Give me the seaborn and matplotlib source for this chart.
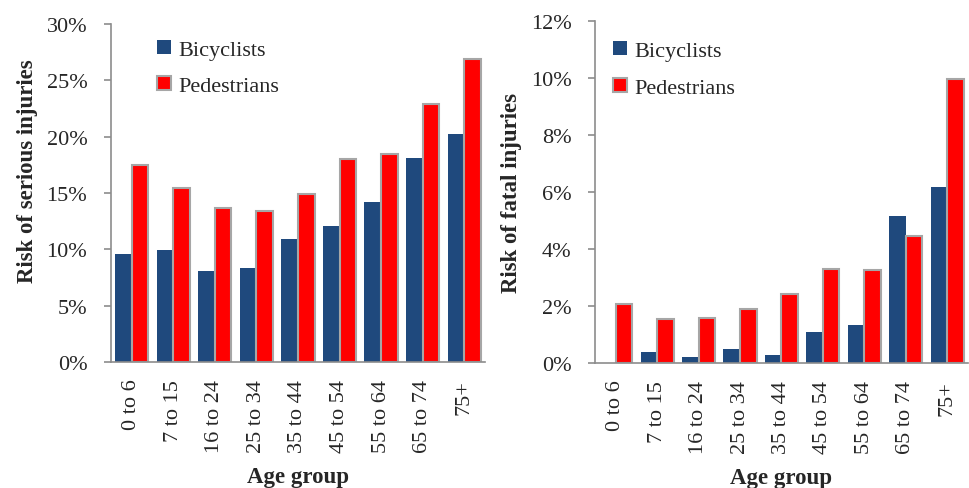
import pandas as pd
import matplotlib
matplotlib.use("Agg")
import matplotlib.pyplot as plt
import seaborn as sns
from matplotlib.ticker import PercentFormatter, FixedLocator

age_groups = ["0 to 6", "7 to 15", "16 to 24", "25 to 34", "35 to 44",
              "45 to 54", "55 to 64", "65 to 74", "75+"]

serious_bicyclists = [9.6, 9.9, 8.1, 8.3, 10.9, 12.1, 14.2, 18.1, 20.2]
serious_pedestrians = [17.5, 15.4, 13.7, 13.4, 14.9, 18.0, 18.5, 22.9, 26.9]

fatal_bicyclists = [0.0, 0.39, 0.2, 0.5, 0.29, 1.09, 1.34, 5.16, 6.18]
fatal_pedestrians = [2.06, 1.53, 1.59, 1.9, 2.43, 3.31, 3.25, 4.44, 9.98]

BLUE = "#1F497D"
RED = "#FF0000"
GRAY = "#8C8C8C"

sns.set_style("white")
plt.rcParams["font.family"] = ["Liberation Serif", "DejaVu Serif"]


def to_long(bike, ped):
    df = pd.DataFrame({"Age group": age_groups, "Bicyclists": bike, "Pedestrians": ped})
    return df.melt(id_vars="Age group", var_name="Mode", value_name="Risk")


def draw_panel(ax, df, ymax, ystep, ylabel, legend_xy, ylabel_y):
    sns.barplot(data=df, x="Age group", y="Risk", hue="Mode",
                palette=[BLUE, RED], order=age_groups, width=0.8,
                saturation=1, ax=ax, legend=False, linewidth=0)
    # pedestrians bars get a grey outline
    for bar in ax.containers[1]:
        bar.set_edgecolor("#A6A6A6")
        bar.set_linewidth(1.5)

    ax.set_ylim(0, ymax)
    ax.set_xlim(-0.5, len(age_groups) - 0.5)
    ax.yaxis.set_major_locator(FixedLocator([i * ystep for i in range(int(round(ymax / ystep)) + 1)]))
    ax.yaxis.set_major_formatter(PercentFormatter(decimals=0))
    ax.xaxis.set_minor_locator(FixedLocator([i - 0.5 for i in range(len(age_groups) + 1)]))
    ax.tick_params(axis="x", which="major", length=0, pad=12, labelsize=16, labelrotation=90)
    ax.tick_params(axis="x", which="minor", length=5, color=GRAY, width=1.2, direction="out")
    ax.tick_params(axis="y", length=5, color=GRAY, width=1.2, direction="out", labelsize=16, pad=12, left=True)

    sns.despine(ax=ax)
    for side in ("left", "bottom"):
        ax.spines[side].set_color(GRAY)
        ax.spines[side].set_linewidth(1.2)

    ax.set_xlabel("Age group", fontsize=16.5, fontweight="bold", labelpad=10)
    ax.set_ylabel(ylabel, fontsize=16.5, fontweight="bold", labelpad=6)
    ax.yaxis.label.set_y(ylabel_y)

    handles = [plt.Rectangle((0, 0), 1, 1, facecolor=BLUE, edgecolor="none"),
               plt.Rectangle((0, 0), 1, 1, facecolor=RED, edgecolor="#A6A6A6", linewidth=1.5)]
    ax.legend(handles, ["Bicyclists", "Pedestrians"], loc="upper left",
              bbox_to_anchor=legend_xy, frameon=False, fontsize=16,
              handlelength=0.6, handleheight=0.6, handletextpad=0.35,
              labelspacing=0.75, borderaxespad=0)


fig = plt.figure(figsize=(9.7, 4.89), dpi=100)
ax1 = fig.add_axes([0.1144, 0.2577, 0.3856, 0.6912])
ax2 = fig.add_axes([0.6134, 0.2556, 0.3845, 0.6994])

draw_panel(ax1, to_long(serious_bicyclists, serious_pedestrians), 30, 5,
           "Risk of serious injuries", (0.10, 0.98), 0.568)
draw_panel(ax2, to_long(fatal_bicyclists, fatal_pedestrians), 12, 2,
           "Risk of fatal injuries", (0.025, 0.967), 0.5)

fig.savefig("out.png", dpi=100)
